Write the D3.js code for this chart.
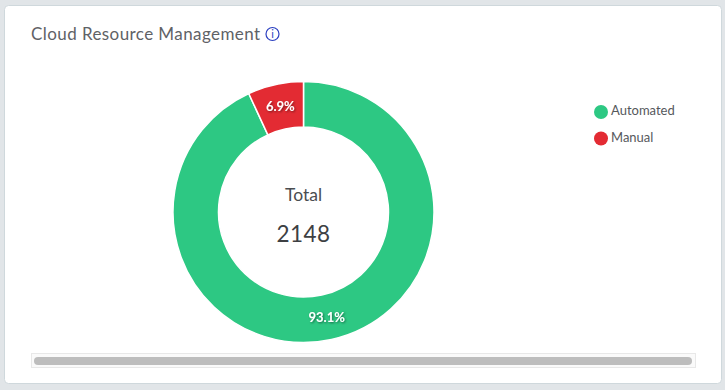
<!DOCTYPE html>
<html>
<head>
<meta charset="utf-8">
<script src="https://cdn.jsdelivr.net/npm/d3@7"></script>
<style>
  html, body { margin: 0; padding: 0; background: #e1e5e8; }
  svg { display: block; }
  text { font-family: Lato, sans-serif; }
</style>
</head>
<body>
<div id="wrapper"></div>
<script>
const categories = ["Automated", "Manual"]
const counts = [2000, 148]
const percentLabels = ["93.1%", "6.9%"]
const colors = ["#2dc883", "#e32b33"]
const totalLabel = "Total"
const totalValue = "2148"
const titleText = "Cloud Resource Management"

const width = 725
const height = 390

const wrapper = d3.select("#wrapper")
  .append("svg")
    .attr("width", width)
    .attr("height", height)

const defs = wrapper.append("defs")
defs.append("filter")
    .attr("id", "labelShadow")
    .attr("x", "-20%").attr("y", "-30%")
    .attr("width", "140%").attr("height", "160%")
  .append("feDropShadow")
    .attr("dx", 1).attr("dy", 1)
    .attr("stdDeviation", 0.8)
    .attr("flood-color", "#000")
    .attr("flood-opacity", 0.5)

// card
wrapper.append("rect")
  .attr("x", 4.5).attr("y", 5.5)
  .attr("width", 717).attr("height", 378)
  .attr("rx", 4)
  .attr("fill", "#fff")
  .attr("stroke", "#cfd8dc")

wrapper.append("text")
  .attr("x", 31).attr("y", 40)
  .attr("font-size", 17)
  .attr("fill", "#5f6266")
  .style("letter-spacing", "0.42px")
  .text(titleText)

// info icon
const info = wrapper.append("g").attr("transform", "translate(272.5, 34)")
info.append("circle")
  .attr("r", 6.5)
  .attr("fill", "none")
  .attr("stroke", "#2a3fc0")
  .attr("stroke-width", 1.2)
info.append("text")
  .attr("text-anchor", "middle")
  .attr("y", 4)
  .attr("font-size", 11)
  .attr("fill", "#2a3fc0")
  .text("i")

// donut
const bounds = wrapper.append("g").attr("transform", "translate(303.5, 212)")

const pie = d3.pie().sort(null)
const arc = d3.arc().innerRadius(85).outerRadius(130.5)
const labelArc = d3.arc().innerRadius(108).outerRadius(108)
const arcs = pie(counts)

bounds.selectAll("path")
  .data(arcs)
  .join("path")
    .attr("d", arc)
    .attr("fill", (d, i) => colors[i])
    .attr("stroke", "#fff")
    .attr("stroke-width", 1.5)

bounds.selectAll(".pct")
  .data(arcs)
  .join("text")
    .attr("class", "pct")
    .attr("transform", d => `translate(${labelArc.centroid(d)})`)
    .attr("text-anchor", "middle")
    .attr("dy", "0.35em")
    .attr("font-size", 13)
    .attr("font-weight", 700)
    .attr("fill", "#fff")
    .attr("filter", "url(#labelShadow)")
    .text((d, i) => percentLabels[i])

bounds.append("text")
  .attr("text-anchor", "middle")
  .attr("y", -11)
  .attr("font-size", 17.5)
  .attr("fill", "#4a4d50")
  .text(totalLabel)

bounds.append("text")
  .attr("text-anchor", "middle")
  .attr("y", 30)
  .attr("font-size", 22.5)
  .attr("fill", "#3d4043")
  .style("letter-spacing", "0.4px")
  .text(totalValue)

// legend
const legendY = d3.scalePoint().domain(categories).range([112, 138.5])
const legend = wrapper.selectAll(".legend")
  .data(categories)
  .join("g")
    .attr("class", "legend")
    .attr("transform", d => `translate(601, ${legendY(d)})`)

legend.append("circle")
  .attr("r", 7)
  .attr("fill", (d, i) => colors[i])

legend.append("text")
  .attr("x", 10)
  .attr("y", 3)
  .attr("font-size", 13)
  .attr("fill", "#55585c")
  .text(d => d)

// scrollbar
wrapper.append("rect")
  .attr("x", 31.5).attr("y", 353.5)
  .attr("width", 664).attr("height", 14)
  .attr("fill", "#fafafa")
  .attr("stroke", "#e8e8e8")

wrapper.append("rect")
  .attr("x", 34).attr("y", 357)
  .attr("width", 658).attr("height", 8)
  .attr("rx", 4)
  .attr("fill", "#bdbdbd")
</script>
</body>
</html>
